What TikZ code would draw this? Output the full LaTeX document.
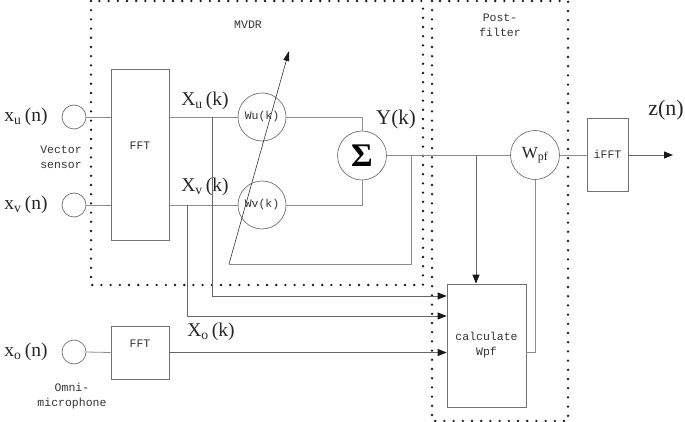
\documentclass[tikz,border=0pt]{standalone}
\usepackage{fontspec}
\setmainfont{Liberation Serif}
\newfontfamily\monof{Liberation Mono}
\usetikzlibrary{arrows.meta}
\begin{document}
\begin{tikzpicture}[x=1pt,y=-1pt,
  ln/.style={draw=black!45, line width=0.8pt},
  arr/.style={draw=black!60, line width=0.8pt, -{Triangle[length=9pt,width=7pt,color=black!90]}},
  fb/.style={draw=black!80, line width=0.6pt, -{Triangle[length=10pt,width=6pt,color=black!90]}},
  circ/.style={circle, draw=black!55, line width=0.7pt, inner sep=0pt, minimum size=#1},
  box/.style={draw=black!55, line width=0.7pt, inner sep=0pt},
  dots/.style={line width=2.6pt, line cap=round, dash pattern=on 0pt off 9.2pt, black!90},
  small/.style={font=\monof\fontsize{11.5}{15}\selectfont, text=black!80, align=center},
  big/.style={font=\fontsize{19.5}{19.5}\selectfont, text=black!85},
]
\useasboundingbox (0,0) rectangle (685,422);

% dotted frames
\draw[dots] (91,1) rectangle (423,285);
\draw[dots] (432,1) rectangle (568,421);

% sensors
\node[circ=24pt] (xu) at (74,117) {};
\node[circ=24pt] (xv) at (74,205) {};
\node[circ=24pt] (xo) at (74,352) {};

% FFT boxes
\node[box, minimum width=58pt, minimum height=171pt] (fft1) at (140,154.5) {};
\node[small] (fft1l) at (140,146) {FFT};
\node[box, minimum width=58pt, minimum height=53pt] (fft2) at (140,352.5) {};
\node[small] (fft2l) at (140,344) {FFT};

% weights and sum
\node[circ=48pt, small] (wu) at (262,117) {Wu(k)};
\node[circ=48pt, small] (wv) at (262,205) {Wv(k)};
\node[circ=49pt, font=\fontsize{33}{33}\selectfont\bfseries, text=black] (sum) at (362,155.5) {Σ};
\node[circ=49pt, font=\fontsize{17}{17}\selectfont, text=black!85] (wpf) at (535,155) {W\textsubscript{pf}};

% calculate and iFFT
\node[box, minimum width=79pt, minimum height=123pt, small] (calc) at (486.5,345.5) {calculate\\Wpf};
\node[box, minimum width=41pt, minimum height=73pt, small] (ifft) at (607.5,154.5) {iFFT};

% helper coordinates
\coordinate (ty) at (411,155.5);
\coordinate (fbL) at (229,264);
\coordinate (fbT) at (289,51);
\coordinate (tu) at (212,117);
\coordinate (tv) at (187,205);
\coordinate (cu) at (447,296);
\coordinate (cv) at (447,316);
\coordinate (td) at (476,155.5);
\coordinate (out) at (673,155);

% connectors
\draw[ln] (xu.east) -- (xu.east -| fft1.west);
\draw[ln] (xv.east) -- (xv.east -| fft1.west);
\draw[ln] (xo.east) -- (fft2.west);
\draw[ln] (fft1.east |- wu.west) -- (wu.west);
\draw[ln] (fft1.east |- wv.west) -- (wv.west);
\draw[ln] (wu.east) -| (sum.north);
\draw[ln] (wv.east) -| (sum.south);
\draw[ln] (sum.east) -- (sum.east -| wpf.west);
\draw[ln] (ty) |- (fbL);
\draw[fb] (fbL) -- (fbT);
\draw[arr] (tu) |- (calc.west |- cu);
\draw[arr] (tv) |- (calc.west |- cv);
\draw[arr] (fft2.east) -- (fft2.east -| calc.west);
\draw[arr] (td) -- (td |- calc.north);
\draw[ln] (wpf.south) |- (calc.east |- fft2.east);
\draw[ln] (wpf.east) -- (wpf.east -| ifft.west);
\draw[arr] (ifft.east |- out) -- (out);

% labels
\node[big] (lxu) at (26,117) {x\textsubscript{u}\,(n)};
\node[big] (lxv) at (26,205) {x\textsubscript{v}\,(n)};
\node[big] (lxo) at (26,352) {x\textsubscript{o}\,(n)};
\node[big] (lXu) at (205,101) {X\textsubscript{u}\,(k)};
\node[big] (lXv) at (205,187) {X\textsubscript{v}\,(k)};
\node[big] (lXo) at (211,332) {X\textsubscript{o}\,(k)};
\node[big, font=\fontsize{21}{21}\selectfont] (lY) at (396,119) {Y(k)};
\node[big, font=\fontsize{22}{22}\selectfont] (lz) at (666,110) {z(n)};
\node[small] (lvs) at (61,157.5) {Vector\\sensor};
\node[small] (lom) at (72,396.5) {Omni-\\microphone};
\node[small] (lmv) at (248,25) {MVDR};
\node[small] (lpf) at (500,25) {Post-\\filter};
\end{tikzpicture}
\end{document}
